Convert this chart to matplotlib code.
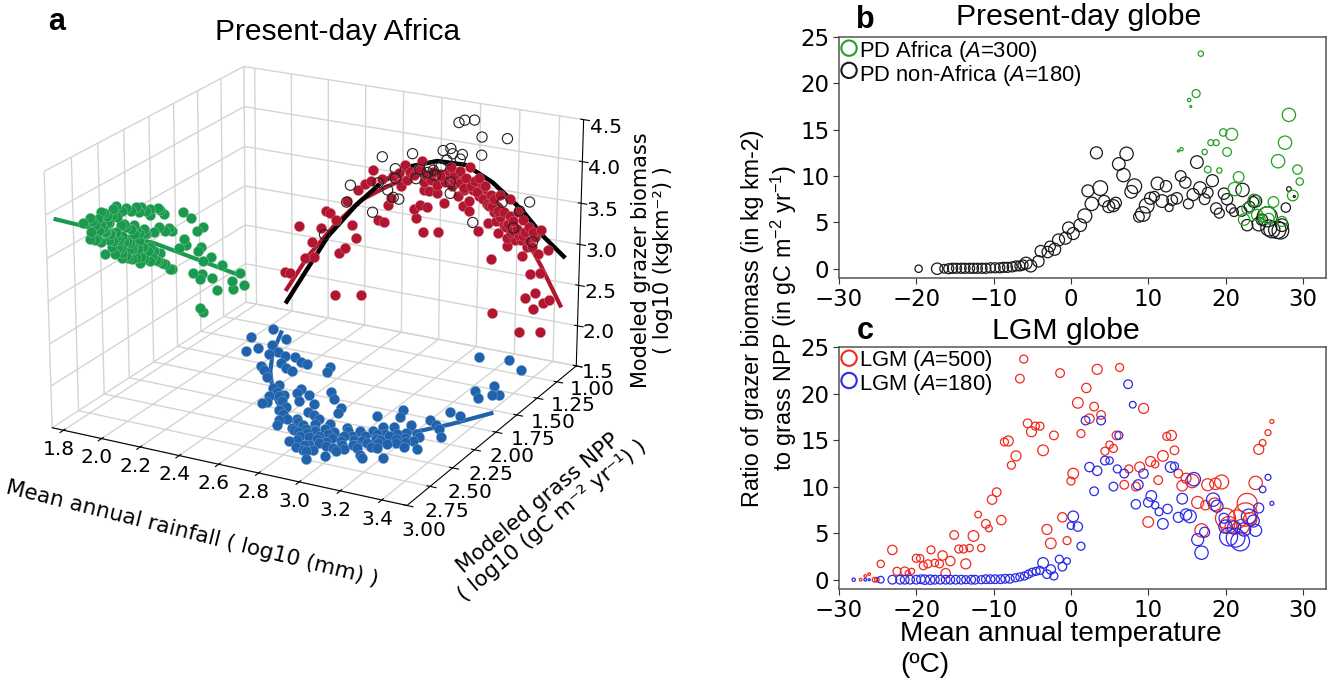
import numpy as np
import matplotlib
matplotlib.use('Agg')
import matplotlib.pyplot as plt

plt.rcParams['mathtext.fontset'] = 'custom'
plt.rcParams['mathtext.rm'] = 'Liberation Sans'
plt.rcParams['mathtext.it'] = 'Liberation Sans:italic'

# panel a, rainfall vs biomass (back wall)
red_x = [1.96, 1.99, 2.07, 2.12, 2.04, 2.16, 2.11, 2.19, 2.21, 2.24, 2.24, 2.38, 2.26, 2.29, 2.33, 2.35, 2.30, 2.36, 2.40, 2.43,
         2.44, 2.49, 2.47, 2.50, 2.52, 2.54, 2.59, 2.61, 2.64, 2.66, 2.69, 2.73, 2.67, 2.71, 2.79, 2.70, 2.71, 2.71, 2.74, 2.78,
         2.82, 2.75, 2.78, 2.82, 2.85, 2.85, 2.90, 2.93, 2.95, 2.98, 3.03, 2.89, 2.92, 2.95, 2.95, 3.00, 3.02, 3.06, 3.07, 3.05,
         3.09, 3.10, 3.13, 3.16, 3.14, 3.18, 3.23, 3.15, 3.15, 3.19, 3.24, 3.22, 3.28, 3.32, 3.25, 3.23, 3.31, 3.36, 3.27, 3.32,
         3.07, 3.25, 3.30, 3.29, 3.34, 3.37, 3.08, 3.22, 3.33, 2.92, 2.97, 3.00, 3.04, 3.08, 3.11, 3.15, 3.18, 3.21, 2.87, 2.68,
         2.80, 2.84, 2.87, 2.90, 2.92, 2.96, 2.99, 3.00, 3.02, 3.05, 3.08, 3.10, 3.11, 3.13, 3.16, 3.17, 3.20, 3.20, 3.23, 3.26,
         3.26, 3.28, 3.29, 2.66, 2.69, 2.72, 2.76, 2.58, 2.55, 2.62, 2.86]
red_z = [1.99, 1.99, 2.22, 2.25, 2.61, 2.63, 2.44, 2.86, 2.84, 2.77, 1.82, 1.88, 2.36, 2.44, 2.74, 2.59, 3.03, 3.19, 3.29, 3.33,
         3.48, 3.38, 2.86, 2.85, 3.07, 3.17, 3.34, 3.61, 3.53, 3.08, 3.14, 3.13, 2.97, 2.82, 2.85, 3.69, 3.43, 3.34, 3.33, 3.33,
         3.22, 3.47, 3.42, 3.48, 3.56, 3.68, 3.64, 3.57, 3.71, 3.55, 3.51, 3.34, 3.22, 3.17, 3.30, 2.95, 3.35, 3.41, 3.29, 3.07,
         3.11, 2.97, 3.23, 3.41, 3.06, 3.14, 3.18, 2.93, 2.82, 2.92, 3.03, 2.93, 3.05, 3.09, 2.86, 2.74, 2.79, 2.86, 2.53, 2.57,
         2.63, 2.23, 2.31, 2.11, 2.20, 2.25, 1.96, 1.78, 1.83, 3.44, 3.44, 3.38, 3.30, 3.22, 3.16, 3.10, 3.02, 2.98, 3.52, 3.58,
         3.55, 3.62, 3.58, 3.50, 3.42, 3.48, 3.42, 3.60, 3.52, 3.28, 3.38, 3.24, 3.44, 3.08, 3.20, 3.00, 3.06, 3.26, 2.98, 2.93,
         3.10, 2.87, 2.99, 3.50, 3.58, 3.52, 3.58, 3.50, 3.45, 3.42, 3.45]
red_line_x = [1.97, 2.09, 2.24, 2.38, 2.51, 2.65, 2.80, 2.96, 3.11, 3.24, 3.33, 3.43]
red_line_z = [1.77, 2.25, 2.72, 3.08, 3.29, 3.49, 3.60, 3.56, 3.31, 2.98, 2.64, 2.21]
open_x = [2.89, 2.92, 2.97, 3.01, 3.14, 2.49, 2.65, 2.81, 2.85, 2.86, 2.91, 3.01, 2.83, 2.90, 2.56, 2.32, 2.47, 2.56, 2.67, 2.69,
          2.73, 2.76, 2.74, 2.77, 2.80, 2.85, 2.52, 2.55, 2.58, 2.30, 2.44, 2.18, 2.85, 2.97, 3.12, 3.26, 3.21, 3.18, 3.28]
open_z = [4.23, 4.27, 4.29, 4.10, 4.13, 3.66, 3.76, 3.86, 3.90, 3.84, 3.85, 3.88, 3.75, 3.79, 3.54, 3.24, 3.33, 3.42, 3.46, 3.58,
          3.56, 3.60, 3.63, 3.54, 3.66, 3.49, 3.26, 3.18, 3.17, 3.02, 2.95, 2.56, 3.35, 3.04, 3.35, 3.41, 3.28, 3.06, 2.93]
black_line_x = [1.97, 2.07, 2.20, 2.35, 2.49, 2.64, 2.78, 2.93, 3.07, 3.22, 3.34, 3.44]
black_line_z = [1.61, 2.02, 2.55, 3.00, 3.35, 3.60, 3.72, 3.73, 3.57, 3.30, 3.01, 2.82]

# panel a, rainfall vs NPP (floor)
blue_x = [2.03, 1.99, 2.06, 2.09, 2.13, 2.15, 2.17, 2.20, 2.25, 2.28, 2.30, 2.35, 2.39, 2.21, 2.25, 2.30, 2.33, 2.37, 2.50, 2.52,
          2.40, 2.39, 2.43, 2.48, 2.51, 2.52, 2.57, 2.58, 2.65, 2.65, 2.70, 2.43, 2.45, 2.55, 2.54, 2.78, 2.79, 2.67, 2.71, 2.75,
          2.62, 2.66, 2.62, 2.69, 2.71, 2.75, 2.79, 2.77, 2.81, 2.85, 2.75, 2.81, 2.85, 2.91, 2.89, 2.97, 2.99, 2.90, 2.88, 2.91,
          2.94, 2.98, 3.03, 2.98, 3.10, 3.12, 3.10, 3.20, 3.03, 2.97, 3.05, 3.08, 3.15, 3.14, 3.09, 3.21, 3.06, 3.04, 3.15, 3.24,
          3.29, 3.24, 3.20, 3.25, 3.28, 3.33, 3.24, 3.30, 3.23, 3.28, 3.32, 3.35, 3.28, 3.07, 3.21, 3.31,
          2.68, 2.72, 2.74, 2.78, 2.80, 2.83, 2.84, 2.87, 2.88, 2.90, 2.92, 2.93, 2.95, 2.96, 2.97, 3.00, 3.01, 3.02, 3.04, 3.05,
          3.06, 3.07, 3.09, 3.10, 3.11, 3.12, 3.13, 3.16, 3.17, 3.18, 3.19, 3.22, 3.23, 2.60, 2.58, 2.50, 2.46, 2.42, 2.85, 2.78,
          2.83, 2.87, 3.02, 2.76, 2.82]
blue_y = [1.28, 1.45, 1.64, 1.57, 1.50, 1.38, 1.61, 1.57, 1.60, 1.70, 1.59, 1.63, 1.64, 1.78, 1.83, 1.90, 1.75, 1.77, 1.62, 1.69,
          1.97, 2.02, 2.05, 2.08, 1.96, 2.02, 2.11, 2.02, 2.11, 1.92, 2.00, 2.22, 2.20, 2.21, 2.26, 2.09, 2.15, 2.22, 2.24, 2.27,
          2.34, 2.32, 2.44, 2.43, 2.45, 2.41, 2.40, 2.51, 2.50, 2.50, 2.59, 2.64, 2.65, 2.74, 2.63, 2.67, 2.59, 2.51, 2.38, 2.31,
          2.40, 2.51, 2.47, 2.31, 2.58, 2.60, 2.46, 2.55, 2.28, 2.10, 2.21, 2.36, 2.39, 2.26, 2.18, 2.32, 2.05, 1.97, 2.12, 2.30,
          2.37, 2.24, 2.02, 2.06, 2.10, 2.19, 1.88, 1.90, 1.56, 1.64, 1.57, 1.55, 1.45, 1.13, 1.09, 1.19,
          2.35, 2.38, 2.47, 2.46, 2.42, 2.37, 2.46, 2.42, 2.54, 2.45, 2.55, 2.34, 2.46, 2.56, 2.38, 2.42, 2.55, 2.35, 2.42, 2.50,
          2.30, 2.43, 2.28, 2.36, 2.40, 2.30, 2.46, 2.31, 2.22, 2.36, 2.28, 2.21, 2.38, 2.38, 2.30, 2.15, 2.10, 2.12, 2.58, 2.56,
          2.60, 2.66, 2.48, 2.33, 2.30]
blue_line_x = [2.09, 2.18, 2.28, 2.42, 2.57, 2.74, 2.90, 3.05, 3.21, 3.30, 3.41]
blue_line_y = [1.31, 1.59, 1.82, 2.08, 2.28, 2.42, 2.42, 2.33, 2.17, 2.02, 1.79]

# panel a, NPP vs biomass (left wall)
green_y = [2.66, 2.59, 2.49, 2.34, 2.37, 2.24, 2.12, 2.01, 1.93, 2.01, 1.91, 1.87, 1.67, 1.59, 1.46, 1.53, 1.92, 1.97, 1.82, 1.86,
           1.79, 2.07, 2.27, 2.17, 2.41, 2.49, 2.57, 2.59, 2.51, 2.41, 2.29, 2.17, 2.32, 2.24, 2.12, 2.49, 2.39, 2.46, 2.29, 2.29,
           2.19, 2.11, 2.16, 2.01, 2.02, 1.91, 1.94, 1.82, 1.79, 1.87, 1.66, 1.72, 1.64, 1.49, 1.52, 1.38, 1.47, 1.26, 1.06, 1.57,
           1.48, 1.50, 1.37, 1.32, 1.15, 1.14, 1.02, 1.51, 1.47, 2.44, 2.35, 2.22, 2.08, 2.05, 1.98, 2.30, 2.55,
           2.55, 2.52, 2.46, 2.43, 2.38, 2.33, 2.28, 2.20, 2.15, 2.10, 2.05, 2.60, 2.45, 2.40, 2.35, 2.30, 2.25, 2.20, 2.15, 2.12,
           2.06, 2.42, 2.38, 2.33, 2.27, 2.21, 2.18, 2.14, 2.08, 2.04, 1.98, 2.36, 2.26, 2.24, 2.20, 2.12, 2.08, 2.00, 1.96, 1.90,
           2.53, 2.47, 2.43]
green_z = [3.67, 3.69, 3.69, 3.65, 3.64, 3.56, 3.43, 3.40, 3.35, 3.32, 3.31, 3.24, 3.13, 3.00, 2.79, 2.79, 3.11, 3.09, 3.03, 3.02,
           2.97, 3.19, 3.39, 3.31, 3.50, 3.53, 3.63, 3.52, 3.47, 3.37, 3.26, 3.20, 3.23, 3.15, 3.08, 3.33, 3.20, 3.17, 3.06, 3.00,
           3.03, 2.88, 2.91, 2.93, 2.77, 2.79, 2.71, 2.53, 2.50, 2.62, 2.78, 2.71, 2.69, 2.56, 2.53, 2.36, 2.37, 2.17, 1.92, 2.29,
           2.22, 2.17, 2.08, 1.90, 1.89, 1.77, 1.74, 1.81, 1.73, 3.42, 3.28, 3.05, 2.98, 3.12, 2.86, 3.12, 3.40,
           3.58, 3.62, 3.66, 3.60, 3.56, 3.52, 3.55, 3.50, 3.52, 3.48, 3.40, 3.45, 3.42, 3.38, 3.35, 3.40, 3.34, 3.28, 3.24, 3.18,
           3.14, 3.30, 3.26, 3.16, 3.18, 3.12, 3.05, 3.00, 2.98, 2.90, 2.86, 3.10, 3.00, 2.96, 2.92, 2.82, 2.84, 2.80, 2.74, 2.66,
           3.40, 3.48, 3.52]
green_line_y = [2.91, 1.97, 1.06]
green_line_z = [3.89, 2.95, 1.89]

# panel b
pd_other_t = [-19.7, -17.3, -16.4, -15.8, -15.3, -14.8, -14.2, -13.7, -13.1, -12.6, -12.1, -11.5, -11.0, -10.4, -9.8, -9.2, -8.7, -8.2, -7.6, -7.1,
              -6.6, -6.2, -5.8, -5.2, -4.2, -3.9, -3.0, -2.7, -2.1, -1.6, -0.7, -0.3, 0.3, 1.2, 1.8, 2.7, 2.2, 3.8, 3.3, 4.3,
              4.9, 5.5, 5.8, 6.2, 7.2, 6.8, 8.2, 7.8, 8.8, 9.3, 9.8, 10.3, 10.8, 11.2, 11.8, 12.3, 12.7, 13.1, 13.7, 14.2,
              14.8, 15.2, 15.8, 16.3, 16.7, 17.3, 17.7, 18.3, 18.8, 19.2, 19.8, 20.2, 20.7, 21.1, 22.2, 22.1, 22.8, 23.1, 23.6, 23.9,
              24.3, 24.7, 25.4, 25.6, 26.0, 26.7, 27.1, 27.3, 27.8, 28.2, 28.9]
pd_other_r = [0.0, 0.0, 0.0, 0.0, 0.05, 0.05, 0.05, 0.05, 0.05, 0.05, 0.05, 0.05, 0.05, 0.1, 0.1, 0.1, 0.15, 0.15, 0.2, 0.3,
              0.3, 0.4, 0.6, 0.3, 0.8, 1.9, 1.8, 2.4, 2.1, 3.1, 3.3, 4.4, 3.8, 4.7, 5.7, 7.0, 8.4, 8.7, 12.5, 7.3,
              6.7, 6.8, 7.1, 11.3, 12.4, 10.1, 8.9, 8.3, 5.6, 5.9, 6.8, 7.6, 7.8, 9.2, 7.3, 8.9, 6.6, 7.4, 7.6, 10.0,
              9.3, 7.0, 8.0, 11.5, 8.7, 7.5, 8.2, 9.5, 6.5, 6.0, 8.1, 7.5, 6.5, 6.1, 8.5, 6.2, 4.7, 6.7, 7.2, 7.3,
              4.8, 5.3, 5.6, 4.4, 4.2, 4.2, 4.1, 4.7, 6.6, 8.6, 7.8]
pd_other_area = [22, 34, 26, 30, 30, 30, 30, 30, 30, 30, 30, 30, 30, 30, 30, 30, 30, 30, 30, 30,
                 30, 30, 36, 36, 34, 34, 34, 32, 36, 36, 36, 36, 36, 38, 42, 40, 36, 44, 36, 34,
                 36, 36, 34, 38, 40, 40, 44, 38, 32, 44, 44, 36, 30, 38, 38, 34, 24, 32, 34, 32,
                 34, 30, 36, 38, 38, 32, 32, 36, 34, 30, 34, 34, 28, 26, 40, 30, 34, 32, 32, 36,
                 40, 34, 60, 48, 48, 52, 50, 38, 28, 14, 6]
pd_africa_t = [16.8, 16.2, 15.3, 15.5, 28.2, 20.8, 19.7, 18.1, 18.8, 27.7, 17.3, 20.2, 14.3, 13.9, 26.8, 17.7, 19.2, 29.3, 29.6, 21.7,
               21.2, 28.7, 23.7, 26.2, 22.8, 24.1, 25.4, 22.4, 27.3, 25.6, 24.7]
pd_africa_r = [23.2, 18.9, 18.2, 17.5, 16.6, 14.5, 14.7, 13.6, 13.6, 13.6, 12.6, 12.6, 12.9, 12.7, 11.6, 10.7, 10.6, 10.7, 9.4, 9.9,
               8.6, 7.9, 7.4, 7.2, 6.5, 5.8, 5.8, 5.3, 5.1, 5.4, 5.4]
pd_africa_area = [16, 24, 10, 6, 40, 36, 22, 18, 18, 40, 16, 26, 10, 6, 40, 20, 16, 28, 22, 32,
                  40, 32, 36, 32, 32, 34, 50, 34, 30, 32, 20]

# panel c
lgm500_t = [-6.1, -6.6, -1.4, 3.4, 6.3, 2.0, 0.9, 3.0, 9.4, 3.9, 2.4, -5.6, -4.6, -4.0, -5.1, -2.2, 1.3, 5.9, -8.6, -8.1,
            12.4, 13.0, 5.0, 4.4, 5.5, -3.6, 13.4, -7.1, -7.7, 11.9, 10.3, 10.9, 7.5, 8.9, 0.3, 0.0, 6.9, 8.4, 11.3, 13.9,
            14.4, 14.9, 15.7, 17.7, 18.7, 19.5, 23.9, 24.3, 24.8, 25.5, 26.0, -9.6, -10.2, -12.0, -11.0, -10.6, -9.0, -15.1, -12.6, -14.5,
            -13.9, -13.1, -11.6, -23.1, -18.1, -16.6, -20.0, -19.5, -15.6, -13.6, -24.6, -18.5, -17.6, -17.0, -19.1, -16.2, -22.5, -21.5, -20.6, -21.1,
            -26.1, -26.6, -27.2, -25.4, -25.1, -1.1, -3.1, -2.6, -0.5, 10.0, 16.4, 17.4, 18.6, 16.9, 20.0, 22.8, 22.6, 21.5, 20.4, 20.8,
            23.2, 22.1]
lgm500_r = [23.7, 21.6, 22.2, 22.6, 22.8, 20.6, 19.0, 18.6, 18.4, 17.7, 17.3, 16.8, 16.5, 16.5, 15.9, 15.5, 15.7, 15.5, 14.8, 14.9,
            15.4, 15.5, 14.5, 13.8, 14.1, 13.9, 13.9, 13.3, 12.3, 13.3, 12.7, 12.4, 11.9, 12.1, 11.4, 10.6, 10.2, 10.0, 10.7, 11.4,
            10.1, 10.9, 10.6, 10.2, 10.3, 10.5, 10.4, 14.0, 14.7, 15.8, 17.0, 9.4, 8.6, 7.0, 6.0, 5.5, 6.4, 4.8, 4.7, 3.3,
            3.3, 3.4, 3.4, 3.2, 3.2, 2.6, 2.3, 2.3, 2.0, 1.7, 1.7, 1.7, 1.8, 1.7, 1.5, 0.7, 0.9, 0.9, 0.9, 0.7,
            0.6, 0.4, 0.0, 0.0, 0.0, 6.7, 5.4, 3.9, 4.2, 6.2, 8.3, 8.0, 8.1, 5.3, 6.6, 8.2, 7.0, 6.5, 5.9, 5.7,
            6.5, 5.7]
lgm500_area = [24, 26, 26, 30, 24, 28, 32, 26, 30, 26, 28, 26, 24, 24, 30, 26, 24, 26, 24, 30,
               24, 30, 22, 24, 24, 32, 26, 30, 24, 32, 30, 22, 24, 30, 32, 24, 26, 26, 26, 26,
               32, 30, 40, 36, 34, 42, 40, 30, 20, 18, 12, 26, 28, 20, 26, 20, 28, 26, 32, 24,
               24, 22, 22, 28, 24, 28, 24, 22, 28, 30, 22, 24, 22, 24, 24, 28, 24, 26, 18, 16,
               8, 8, 8, 14, 14, 28, 30, 32, 24, 32, 36, 28, 38, 40, 60, 60, 70, 56, 50, 40,
               40, 44]
lgm180_t = [-28.1, -26.6, -26.1, -24.6, -23.1, -22.1, -21.5, -20.8, -20.0, -19.4, -18.9, -18.2, -17.6, -16.9, -16.2, -15.6, -14.9, -14.2, -13.6, -12.9,
            -12.4, -11.6, -11.0, -10.4, -9.8, -9.1, -8.5, -7.9, -7.2, -6.6, -6.0, -5.5, -5.0, -4.5, -4.0, 7.4, 8.0, 1.9, 3.9, 6.2,
            4.4, 5.0, 2.4, 3.4, 6.0, 6.9, 9.4, 12.9, 13.4, 15.9, 8.7, 5.5, 3.0, 10.4, 14.4, 8.4, 10.0, 10.9, 11.4, 12.5,
            11.9, 13.9, 14.9, 15.4, 18.4, 18.9, 25.5, 24.8, 26.0, 24.3, 17.3, 16.4, 16.9, 19.8, 20.0, 20.4, 21.3, 21.9, 21.1, 22.4,
            23.9, 23.6, 23.0, 0.3, 0.0, 0.9, 1.3, -1.5, -0.5, -1.1, -2.6, -2.2, -3.1, -3.6]
lgm180_r = [0.0, 0.0, 0.0, 0.0, 0.0, 0.0, 0.0, 0.0, 0.0, 0.05, 0.0, 0.0, 0.0, 0.0, 0.0, 0.0, 0.0, 0.0, 0.0, 0.0,
            0.0, 0.0, 0.05, 0.05, 0.05, 0.05, 0.1, 0.1, 0.2, 0.3, 0.4, 0.6, 0.8, 0.9, 1.0, 21.0, 18.8, 17.1, 17.1, 15.5,
            12.8, 12.8, 12.1, 11.7, 11.9, 11.4, 11.4, 12.1, 12.2, 10.8, 10.2, 10.0, 9.5, 9.0, 8.7, 8.1, 8.3, 8.0, 7.3, 7.6,
            6.0, 6.7, 7.0, 6.8, 8.6, 7.9, 11.0, 9.7, 8.2, 7.7, 5.1, 4.3, 2.9, 6.6, 5.7, 4.6, 4.5, 4.1, 5.6, 5.4,
            5.3, 6.3, 6.8, 6.8, 5.8, 5.7, 3.6, 2.2, 2.0, 1.4, 1.1, 0.4, 0.6, 1.8]
lgm180_area = [10, 8, 6, 20, 26, 26, 26, 26, 26, 26, 28, 28, 26, 26, 26, 26, 26, 26, 24, 26,
               26, 24, 26, 26, 26, 26, 26, 26, 24, 24, 24, 24, 24, 24, 24, 26, 20, 26, 26, 24,
               26, 22, 28, 28, 24, 26, 28, 32, 24, 40, 30, 26, 26, 32, 32, 28, 28, 22, 24, 28,
               32, 30, 34, 38, 40, 36, 18, 20, 12, 30, 30, 36, 40, 30, 40, 54, 56, 56, 40, 40,
               36, 36, 44, 32, 22, 28, 24, 24, 20, 26, 28, 24, 26, 32]

# tick values
x_ticks_a = [1.8, 2.0, 2.2, 2.4, 2.6, 2.8, 3.0, 3.2, 3.4]
y_ticks_a = [1.0, 1.25, 1.5, 1.75, 2.0, 2.25, 2.5, 2.75, 3.0]
z_ticks_a = [1.5, 2.0, 2.5, 3.0, 3.5, 4.0, 4.5]

GREEN = '#1b9a4f'
RED = '#b2152f'
BLUE = '#2062ab'
SANS = 'Liberation Sans'


def area(d):
    return (np.array(d) * 0.24) ** 2


fig = plt.figure(figsize=(13.37, 6.83), dpi=100)

ax = fig.add_axes([-0.048, 0.0065, 0.56, 1.16], projection='3d')
ax.view_init(elev=20.5, azim=-62)
ax.set_proj_type('persp', focal_length=0.8)
ax.set_xlim(1.74, 3.52)
ax.set_ylim(3.0, 1.0)
ax.set_zlim(1.5, 4.5)
ax.set_box_aspect((4, 4, 2.73), zoom=0.8)
for axis in (ax.xaxis, ax.yaxis, ax.zaxis):
    axis.set_pane_color((1, 1, 1, 1))
    axis._axinfo['grid']['color'] = '#d4d4d4'
    axis._axinfo['grid']['linewidth'] = 1.0
ax.set_xticks(x_ticks_a)
ax.set_yticks(y_ticks_a)
ax.set_zticks(z_ticks_a)
ax.set_xticklabels(['%.1f' % v for v in x_ticks_a])
ax.set_yticklabels(['%.2f' % v for v in y_ticks_a])
ax.set_zticklabels(['%.1f' % v for v in z_ticks_a])
ax.tick_params(labelsize=14.5)
ax.tick_params(axis='x', pad=-1)
ax.tick_params(axis='y', pad=5)
ax.tick_params(axis='z', pad=4)

wall_x = 1.74
wall_y = 1.0
wall_z = 1.5
ax.scatter(np.full(len(green_y), wall_x), green_y, green_z, s=54, c=GREEN, edgecolors='#7cc79a', linewidths=0.3, depthshade=False)
ax.plot(np.full(len(green_line_y), wall_x), green_line_y, green_line_z, color=GREEN, lw=3)
ax.scatter(blue_x, blue_y, np.full(len(blue_x), wall_z), s=54, c=BLUE, edgecolors='#7ba5d0', linewidths=0.3, depthshade=False)
ax.plot(blue_line_x, blue_line_y, np.full(len(blue_line_x), wall_z), color=BLUE, lw=3)
ax.scatter(red_x, np.full(len(red_x), wall_y), red_z, s=54, c=RED, edgecolors='#d07a88', linewidths=0.3, depthshade=False)
ax.plot(red_line_x, np.full(len(red_line_x), wall_y), red_line_z, color=RED, lw=3)
ax.scatter(open_x, np.full(len(open_x), wall_y), open_z, s=54, facecolors='none', edgecolors='#222222', linewidths=0.8, depthshade=False)
ax.plot(black_line_x, np.full(len(black_line_x), wall_y), black_line_z, color='black', lw=3.2)

fig.text(338 / 1337, 1 - 32 / 683, 'Present-day Africa', fontsize=21.6, family=SANS, ha='center', va='center')
fig.text(57 / 1337, 1 - 22 / 683, 'a', fontsize=22, family=SANS, weight='bold', ha='center', va='center')
fig.text(192 / 1337, 1 - 534 / 683, 'Mean annual rainfall ( log10 (mm) )', fontsize=15.5, rotation=-14, ha='center', va='center')
fig.text(545 / 1337, 1 - 512 / 683, 'Modeled grass NPP\n( log10 (gC m\u207b\u00b2 yr\u207b\u00b9) )', fontsize=15.5, rotation=40,
         ha='center', va='center', multialignment='center', linespacing=1.15)
fig.text(652 / 1337, 1 - 260 / 683, 'Modeled grazer biomass\n( log10 (kgkm\u207b\u00b2) )', fontsize=15, rotation=90,
         ha='center', va='center', multialignment='center', linespacing=1.15)

ax_b = fig.add_axes([839 / 1337, 1 - 278 / 683, 487 / 1337, 241 / 683])
ax_c = fig.add_axes([839 / 1337, 1 - 589 / 683, 487 / 1337, 242 / 683])

ax_b.scatter(pd_other_t, pd_other_r, s=area(pd_other_area), facecolors='none', edgecolors='#1a1a1a', linewidths=0.9)
ax_b.scatter(pd_africa_t, pd_africa_r, s=area(pd_africa_area), facecolors='none', edgecolors='#22a022', linewidths=0.9)
ax_c.scatter(lgm500_t, lgm500_r, s=area(lgm500_area), facecolors='none', edgecolors='#f02a20', linewidths=0.9)
ax_c.scatter(lgm180_t, lgm180_r, s=area(lgm180_area), facecolors='none', edgecolors='#2a2ae8', linewidths=0.9)

for a in (ax_b, ax_c):
    a.set_xlim(-30, 33)
    a.set_ylim(-1, 25)
    a.set_xticks([-30, -20, -10, 0, 10, 20, 30])
    a.set_yticks([0, 5, 10, 15, 20, 25])
    a.tick_params(labelsize=16.5, length=4, pad=3, color='#333333')
    for sp in a.spines.values():
        sp.set_color('#555555')
        sp.set_linewidth(1.1)

ax_b.scatter([-28.7], [23.8], s=area(46), facecolors='none', edgecolors='#22a022', linewidths=1.5, clip_on=False)
ax_b.scatter([-28.7], [21.4], s=area(46), facecolors='none', edgecolors='#1a1a1a', linewidths=1.5, clip_on=False)
ax_b.text(-27.4, 23.4, 'PD Africa ($\\mathit{A}$=300)', fontsize=15.8, family=SANS, va='center')
ax_b.text(-27.4, 20.9, 'PD non-Africa ($\\mathit{A}$=180)', fontsize=15.8, family=SANS, va='center')
ax_c.scatter([-28.7], [23.8], s=area(46), facecolors='none', edgecolors='#f02a20', linewidths=1.5, clip_on=False)
ax_c.scatter([-28.7], [21.4], s=area(46), facecolors='none', edgecolors='#2a2ae8', linewidths=1.5, clip_on=False)
ax_c.text(-27.4, 23.5, 'LGM ($\\mathit{A}$=500)', fontsize=15.8, family=SANS, va='center')
ax_c.text(-27.4, 21.0, 'LGM ($\\mathit{A}$=180)', fontsize=15.8, family=SANS, va='center')

fig.text(1079 / 1337, 1 - 17 / 683, 'Present-day globe', fontsize=21.8, family=SANS, ha='center', va='center')
fig.text(865 / 1337, 1 - 20 / 683, 'b', fontsize=22, family=SANS, weight='bold', ha='center', va='center')
fig.text(1066 / 1337, 1 - 331 / 683, 'LGM globe', fontsize=21.8, family=SANS, ha='center', va='center')
fig.text(865 / 1337, 1 - 331 / 683, 'c', fontsize=22, family=SANS, weight='bold', ha='center', va='center')
fig.text(770 / 1337, 1 - 318 / 683, 'Ratio of grazer biomass (in kg km-2)\nto grass NPP (in gC m$^{-2}$ yr$^{-1}$)', fontsize=16.8,
         family=SANS, rotation=90, ha='center', va='center', multialignment='center', linespacing=1.2)
fig.text(900 / 1337, 1 - 634 / 683, 'Mean annual temperature', fontsize=20.2, family=SANS, ha='left', va='center')
fig.text(900 / 1337, 1 - 665 / 683, '(\u00baC)', fontsize=20.2, family=SANS, ha='left', va='center')

fig.savefig('out.png', dpi=100)
